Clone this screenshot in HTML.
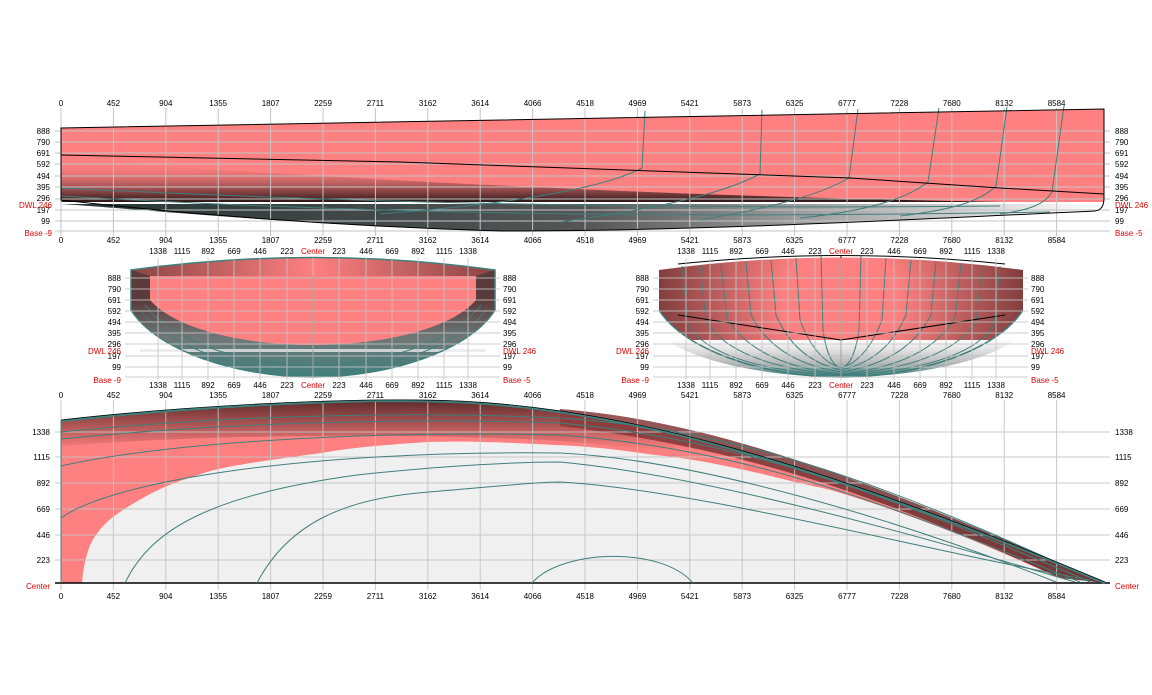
<!DOCTYPE html>
<html><head><meta charset="utf-8"><style>
html,body{margin:0;padding:0;background:#fff;}
svg{display:block;font-family:"Liberation Sans",sans-serif;font-size:8px;}
.g{stroke:#c4c4c4;stroke-width:1;fill:none}
.t{stroke:#3f7f7c;stroke-width:1;fill:none}
.k{stroke:#000;stroke-width:1;fill:none}
.r{fill:#e00000}
</style></head><body>
<svg width="1152" height="695" viewBox="0 0 1152 695">
<defs>
<linearGradient id="dk" x1="0" y1="160" x2="0" y2="202" gradientUnits="userSpaceOnUse"><stop offset="0" stop-color="#ff8080" stop-opacity="0"/><stop offset="1" stop-color="#2a1515"/></linearGradient>
<linearGradient id="lw" x1="61" y1="0" x2="1104" y2="0" gradientUnits="userSpaceOnUse"><stop offset="0" stop-color="#263636"/><stop offset="0.5" stop-color="#555"/><stop offset="0.8" stop-color="#bbb"/><stop offset="1" stop-color="#fff"/></linearGradient>
<linearGradient id="rim" x1="131" y1="0" x2="495" y2="0" gradientUnits="userSpaceOnUse"><stop offset="0" stop-color="#8a4444"/><stop offset="0.5" stop-color="#ff8080"/><stop offset="1" stop-color="#8a4444"/></linearGradient>
<linearGradient id="sl" x1="0" y1="300" x2="0" y2="377" gradientUnits="userSpaceOnUse"><stop offset="0" stop-color="#5a3a3a"/><stop offset="0.5" stop-color="#707878"/><stop offset="1" stop-color="#3f7f7c"/></linearGradient>
<radialGradient id="sr" cx="841" cy="300" r="190" gradientUnits="userSpaceOnUse"><stop offset="0.3" stop-color="#ff8080"/><stop offset="1" stop-color="#7a3a3a"/></radialGradient>
<linearGradient id="srb" x1="0" y1="340" x2="0" y2="377" gradientUnits="userSpaceOnUse"><stop offset="0" stop-color="#fff"/><stop offset="0.6" stop-color="#bbb"/><stop offset="1" stop-color="#3f7f7c"/></linearGradient>
<linearGradient id="pb" x1="0" y1="400" x2="0" y2="450" gradientUnits="userSpaceOnUse"><stop offset="0" stop-color="#5e2a2a"/><stop offset="1" stop-color="#ff8080"/></linearGradient>
<linearGradient id="pb2" x1="560" y1="430" x2="1105" y2="583" gradientUnits="userSpaceOnUse"><stop offset="0" stop-color="#8a3a3a"/><stop offset="1" stop-color="#5a2a2a"/></linearGradient>
</defs>

<!-- ===== TOP PROFILE VIEW ===== -->
<path d="M61,128 L1104,109 L1104,198 Q1104,210 1095,211 C900,220 700,231 500,231 C300,225 150,210 61,200 Z" fill="#ff8080"/>
<path d="M61,160 C300,175 600,195 1000,202 L1000,204 L61,204 Z" fill="url(#dk)"/>
<path d="M61,204 L1104,204 L1104,205 Q1102,210 1095,211 C900,220 700,231 500,231 C300,225 150,210 61,204 Z" fill="url(#lw)"/>
<rect x="61" y="202" width="1043" height="2" fill="#fff"/>
<g class="g">
<path d="M55,131H1110M55,142H1110M55,153H1110M55,164H1110M55,176H1110M55,187H1110M55,199H1110M55,210H1110M55,221H1110M55,231H1110"/>
<path d="M61,108V236M113.4,108V236M165.8,108V236M218.2,108V236M270.6,108V236M323,108V236M375.4,108V236M427.8,108V236M480.2,108V236M532.6,108V236M585,108V236M637.4,108V236M689.8,108V236M742.2,108V236M794.6,108V236M847,108V236M899.4,108V236M951.8,108V236M1004.2,108V236M1056.6,108V236"/>
</g>
<g class="t" stroke-width="0.8">
<path d="M61,188 C300,200 600,210 1000,206"/>
<path d="M61,196 C300,210 600,220 1050,212"/>
<path d="M645,111 L642,168 C600,190 500,205 380,214"/>
<path d="M762,110 L760,174 C720,195 650,210 560,222"/>
<path d="M858,109 L849,178 C820,195 770,208 700,220"/>
<path d="M939,108 L928,182 C905,200 860,212 800,218"/>
<path d="M1007,107 L996,186 C980,202 950,210 900,216"/>
<path d="M1064,106 L1052,192 C1045,204 1030,210 1000,214"/>
</g>
<path class="k" d="M61,128 L1104,109 L1104,198 Q1104,210 1095,211 C900,220 700,231 500,231 C300,225 150,210 61,200 Z"/>
<path class="k" d="M61,155 L400,162 L850,178 L1000,188 L1104,194"/>
<g text-anchor="middle">
<text x="61" y="106">0</text><text x="113.4" y="106">452</text><text x="165.8" y="106">904</text><text x="218.2" y="106">1355</text><text x="270.6" y="106">1807</text><text x="323" y="106">2259</text><text x="375.4" y="106">2711</text><text x="427.8" y="106">3162</text><text x="480.2" y="106">3614</text><text x="532.6" y="106">4066</text><text x="585" y="106">4518</text><text x="637.4" y="106">4969</text><text x="689.8" y="106">5421</text><text x="742.2" y="106">5873</text><text x="794.6" y="106">6325</text><text x="847" y="106">6777</text><text x="899.4" y="106">7228</text><text x="951.8" y="106">7680</text><text x="1004.2" y="106">8132</text><text x="1056.6" y="106">8584</text>
<text x="61" y="243">0</text><text x="113.4" y="243">452</text><text x="165.8" y="243">904</text><text x="218.2" y="243">1355</text><text x="270.6" y="243">1807</text><text x="323" y="243">2259</text><text x="375.4" y="243">2711</text><text x="427.8" y="243">3162</text><text x="480.2" y="243">3614</text><text x="532.6" y="243">4066</text><text x="585" y="243">4518</text><text x="637.4" y="243">4969</text><text x="689.8" y="243">5421</text><text x="742.2" y="243">5873</text><text x="794.6" y="243">6325</text><text x="847" y="243">6777</text><text x="899.4" y="243">7228</text><text x="951.8" y="243">7680</text><text x="1004.2" y="243">8132</text><text x="1056.6" y="243">8584</text>
</g>
<g text-anchor="end">
<text x="50" y="134">888</text><text x="50" y="145">790</text><text x="50" y="156">691</text><text x="50" y="167">592</text><text x="50" y="179">494</text><text x="50" y="190">395</text><text x="50" y="201">296</text><text x="50" y="213">197</text><text x="50" y="224">99</text>
<text x="52" y="208" class="r">DWL 246</text><text x="52" y="236" class="r">Base -9</text>
</g>
<g>
<text x="1115" y="134">888</text><text x="1115" y="145">790</text><text x="1115" y="156">691</text><text x="1115" y="167">592</text><text x="1115" y="179">494</text><text x="1115" y="190">395</text><text x="1115" y="201">296</text><text x="1115" y="213">197</text><text x="1115" y="224">99</text>
<text x="1115" y="208" class="r">DWL 246</text><text x="1115" y="236" class="r">Base -5</text>
</g>

<!-- ===== LEFT SECTION ===== -->
<path d="M131,270 Q313,245 495,270 L495,310 C470,350 390,377 313,377 C236,377 156,350 131,310 Z" fill="url(#sl)"/>
<path d="M150,276 L476,276 L476,300 C450,330 380,345 313,345 C246,345 176,330 150,300 Z" fill="#ff8080"/>
<path d="M131,270 Q313,245 495,270 L476,276 L150,276 Z" fill="url(#rim)"/>
<rect x="140" y="349" width="346" height="3" fill="#e8e8e8" opacity="0.8"/>
<g class="t" stroke-width="0.8">
<path d="M140,310 C170,350 250,372 313,373 C376,372 456,350 486,310"/>
<path d="M145,305 C175,345 250,365 313,366 C376,365 451,345 481,305"/>
</g>
<path class="k" d="M313,277 V377"/>
<path d="M131,270 Q313,245 495,270 L495,310 C470,350 390,377 313,377 C236,377 156,350 131,310 Z" fill="none" stroke="#3f7f7c" stroke-width="1.5"/>

<!-- ===== RIGHT SECTION ===== -->
<path d="M659,270 Q841,245 1023,270 L1023,310 C998,350 918,377 841,377 C764,377 684,350 659,310 Z" fill="url(#sr)"/>
<path d="M668,340 L1014,340 C990,360 918,377 841,377 C764,377 692,360 668,340 Z" fill="url(#srb)"/>
<g class="t" stroke-width="0.8">
<path d="M821,256 L823,330 Q828,365 841,368"/><path d="M861,256 L859,330 Q854,365 841,368"/>
<path d="M796,258 L800,320 Q815,360 841,368"/><path d="M886,258 L882,320 Q867,360 841,368"/>
<path d="M771,260 L776,315 Q795,360 841,370"/><path d="M911,260 L906,315 Q887,360 841,370"/>
<path d="M746,262 L751,315 Q775,362 841,372"/><path d="M936,262 L931,315 Q907,362 841,372"/>
<path d="M721,264 L727,318 Q755,365 841,374"/><path d="M961,264 L955,318 Q927,365 841,374"/>
<path d="M700,265 L706,322 Q735,366 841,375"/><path d="M982,265 L976,322 Q947,366 841,375"/>
<path d="M682,266 L688,325 Q715,368 841,376"/><path d="M1000,266 L994,325 Q967,368 841,376"/>
</g>
<path class="k" d="M678,264 Q841,247 1005,264"/>
<path class="k" d="M678,315 L841,340 L1005,315"/>
<path class="k" d="M841,255 V377"/>
<path d="M659,310 C684,350 764,377 841,377 C918,377 998,350 1023,310" fill="none" stroke="#3f7f7c" stroke-width="1.5"/>

<!-- section grids -->
<g class="g" opacity="0.85">
<path d="M125,278H500M125,289H500M125,300H500M125,311H500M125,322H500M125,333H500M125,344H500M125,356H500M125,367H500M125,377H500"/>
<path d="M158,258V380M182,258V380M208,258V380M234,258V380M260,258V380M287,258V380M313,258V380M339,258V380M366,258V380M392,258V380M418,258V380M444,258V380M468,258V380"/>
<path d="M653,278H1028M653,289H1028M653,300H1028M653,311H1028M653,322H1028M653,333H1028M653,344H1028M653,356H1028M653,367H1028M653,377H1028"/>
<path d="M686,258V380M710,258V380M736,258V380M762,258V380M788,258V380M815,258V380M841,258V380M867,258V380M894,258V380M920,258V380M946,258V380M972,258V380M996,258V380"/>
</g>
<g text-anchor="middle">
<text x="158" y="254">1338</text><text x="182" y="254">1115</text><text x="208" y="254">892</text><text x="234" y="254">669</text><text x="260" y="254">446</text><text x="287" y="254">223</text><text x="313" y="254" class="r">Center</text><text x="339" y="254">223</text><text x="366" y="254">446</text><text x="392" y="254">669</text><text x="418" y="254">892</text><text x="444" y="254">1115</text><text x="468" y="254">1338</text>
<text x="158" y="388">1338</text><text x="182" y="388">1115</text><text x="208" y="388">892</text><text x="234" y="388">669</text><text x="260" y="388">446</text><text x="287" y="388">223</text><text x="313" y="388" class="r">Center</text><text x="339" y="388">223</text><text x="366" y="388">446</text><text x="392" y="388">669</text><text x="418" y="388">892</text><text x="444" y="388">1115</text><text x="468" y="388">1338</text>
<text x="686" y="254">1338</text><text x="710" y="254">1115</text><text x="736" y="254">892</text><text x="762" y="254">669</text><text x="788" y="254">446</text><text x="815" y="254">223</text><text x="841" y="254" class="r">Center</text><text x="867" y="254">223</text><text x="894" y="254">446</text><text x="920" y="254">669</text><text x="946" y="254">892</text><text x="972" y="254">1115</text><text x="996" y="254">1338</text>
<text x="686" y="388">1338</text><text x="710" y="388">1115</text><text x="736" y="388">892</text><text x="762" y="388">669</text><text x="788" y="388">446</text><text x="815" y="388">223</text><text x="841" y="388" class="r">Center</text><text x="867" y="388">223</text><text x="894" y="388">446</text><text x="920" y="388">669</text><text x="946" y="388">892</text><text x="972" y="388">1115</text><text x="996" y="388">1338</text>
</g>
<g text-anchor="end">
<text x="121" y="281">888</text><text x="121" y="292">790</text><text x="121" y="303">691</text><text x="121" y="314">592</text><text x="121" y="325">494</text><text x="121" y="336">395</text><text x="121" y="347">296</text><text x="121" y="359">197</text><text x="121" y="370">99</text>
<text x="121" y="354" class="r">DWL 246</text><text x="121" y="383" class="r">Base -9</text>
<text x="649" y="281">888</text><text x="649" y="292">790</text><text x="649" y="303">691</text><text x="649" y="314">592</text><text x="649" y="325">494</text><text x="649" y="336">395</text><text x="649" y="347">296</text><text x="649" y="359">197</text><text x="649" y="370">99</text>
<text x="649" y="354" class="r">DWL 246</text><text x="649" y="383" class="r">Base -9</text>
</g>
<g>
<text x="503" y="281">888</text><text x="503" y="292">790</text><text x="503" y="303">691</text><text x="503" y="314">592</text><text x="503" y="325">494</text><text x="503" y="336">395</text><text x="503" y="347">296</text><text x="503" y="359">197</text><text x="503" y="370">99</text>
<text x="503" y="354" class="r">DWL 246</text><text x="503" y="383" class="r">Base -5</text>
<text x="1031" y="281">888</text><text x="1031" y="292">790</text><text x="1031" y="303">691</text><text x="1031" y="314">592</text><text x="1031" y="325">494</text><text x="1031" y="336">395</text><text x="1031" y="347">296</text><text x="1031" y="359">197</text><text x="1031" y="370">99</text>
<text x="1031" y="354" class="r">DWL 246</text><text x="1031" y="383" class="r">Base -5</text>
</g>

<!-- ===== PLAN VIEW ===== -->
<path d="M61,421 C200,405 350,400 420,401 C600,402 800,455 1105,583 L61,583 Z" fill="#f0f0f0"/>
<path d="M61,421 C200,405 350,400 420,401 C600,402 800,455 1105,583 L1052,572 C1000,545 940,518 939,518 C880,500 830,490 795,482 C740,468 690,458 655,455 C620,450 590,446 554,445 C500,442 460,441 429,442 C380,445 350,448 321,453 C270,460 240,464 214,470 C180,480 160,488 143,498 C125,508 115,515 107,522 C97,532 92,540 89,548 C85,560 83,570 82,583 L61,583 Z" fill="#ff8080"/>
<path d="M61,421 C200,405 350,400 420,401 C600,402 800,455 1105,583 L1052,575 C900,505 750,455 560,441 C400,432 200,435 61,446 Z" fill="url(#pb)"/>
<path d="M560,409 C700,420 850,470 1105,583 L1060,578 C900,505 760,450 560,426 Z" fill="url(#pb2)" opacity="0.85"/>
<g class="g" opacity="0.9">
<path d="M55,432H1110M55,457H1110M55,483H1110M55,509H1110M55,535H1110M55,560H1110"/>
<path d="M61,400V590M113.4,400V590M165.8,400V590M218.2,400V590M270.6,400V590M323,400V590M375.4,400V590M427.8,400V590M480.2,400V590M532.6,400V590M585,400V590M637.4,400V590M689.8,400V590M742.2,400V590M794.6,400V590M847,400V590M899.4,400V590M951.8,400V590M1004.2,400V590M1056.6,400V590"/>
</g>
<path d="M55,583H1110" stroke="#000" stroke-width="1.5"/>
<g class="t" stroke-width="0.9">
<path d="M61,432 C200,418 380,410 560,418 C750,430 900,490 1100,582"/>
<path d="M61,439 C200,425 380,417 560,423 C750,440 900,500 1090,582"/>
<path d="M61,466 C150,445 350,430 560,435 C760,450 900,510 1080,582"/>
<path d="M61,518 C110,482 300,450 560,453 C700,460 900,520 1056,582"/>
<path d="M125,583 C150,530 210,495 357,475 C450,465 520,462 560,462 C700,475 900,530 1075,582"/>
<path d="M257,583 C290,520 350,498 429,492 C500,486 540,482 560,482 C700,490 920,550 1090,580"/>
<path d="M532,583 C560,550 660,545 693,583"/>
</g>
<path d="M61,421 C200,405 350,400 420,401 C600,402 800,455 1105,583" fill="none" stroke="#3f7f7c" stroke-width="2.5"/>
<path d="M61,420 C200,404 350,399 420,400 C600,401 800,454 1105,582" fill="none" stroke="#000" stroke-width="0.7"/>
<path d="M61,421 V583" stroke="#3f7f7c" stroke-width="1"/>
<g text-anchor="middle">
<text x="61" y="398">0</text><text x="113.4" y="398">452</text><text x="165.8" y="398">904</text><text x="218.2" y="398">1355</text><text x="270.6" y="398">1807</text><text x="323" y="398">2259</text><text x="375.4" y="398">2711</text><text x="427.8" y="398">3162</text><text x="480.2" y="398">3614</text><text x="532.6" y="398">4066</text><text x="585" y="398">4518</text><text x="637.4" y="398">4969</text><text x="689.8" y="398">5421</text><text x="742.2" y="398">5873</text><text x="794.6" y="398">6325</text><text x="847" y="398">6777</text><text x="899.4" y="398">7228</text><text x="951.8" y="398">7680</text><text x="1004.2" y="398">8132</text><text x="1056.6" y="398">8584</text>
<text x="61" y="599">0</text><text x="113.4" y="599">452</text><text x="165.8" y="599">904</text><text x="218.2" y="599">1355</text><text x="270.6" y="599">1807</text><text x="323" y="599">2259</text><text x="375.4" y="599">2711</text><text x="427.8" y="599">3162</text><text x="480.2" y="599">3614</text><text x="532.6" y="599">4066</text><text x="585" y="599">4518</text><text x="637.4" y="599">4969</text><text x="689.8" y="599">5421</text><text x="742.2" y="599">5873</text><text x="794.6" y="599">6325</text><text x="847" y="599">6777</text><text x="899.4" y="599">7228</text><text x="951.8" y="599">7680</text><text x="1004.2" y="599">8132</text><text x="1056.6" y="599">8584</text>
</g>
<g text-anchor="end">
<text x="50" y="435">1338</text><text x="50" y="460">1115</text><text x="50" y="486">892</text><text x="50" y="512">669</text><text x="50" y="538">446</text><text x="50" y="563">223</text><text x="50" y="589" class="r">Center</text>
</g>
<g>
<text x="1115" y="435">1338</text><text x="1115" y="460">1115</text><text x="1115" y="486">892</text><text x="1115" y="512">669</text><text x="1115" y="538">446</text><text x="1115" y="563">223</text><text x="1115" y="589" class="r">Center</text>
</g>
</svg>
</body></html>
